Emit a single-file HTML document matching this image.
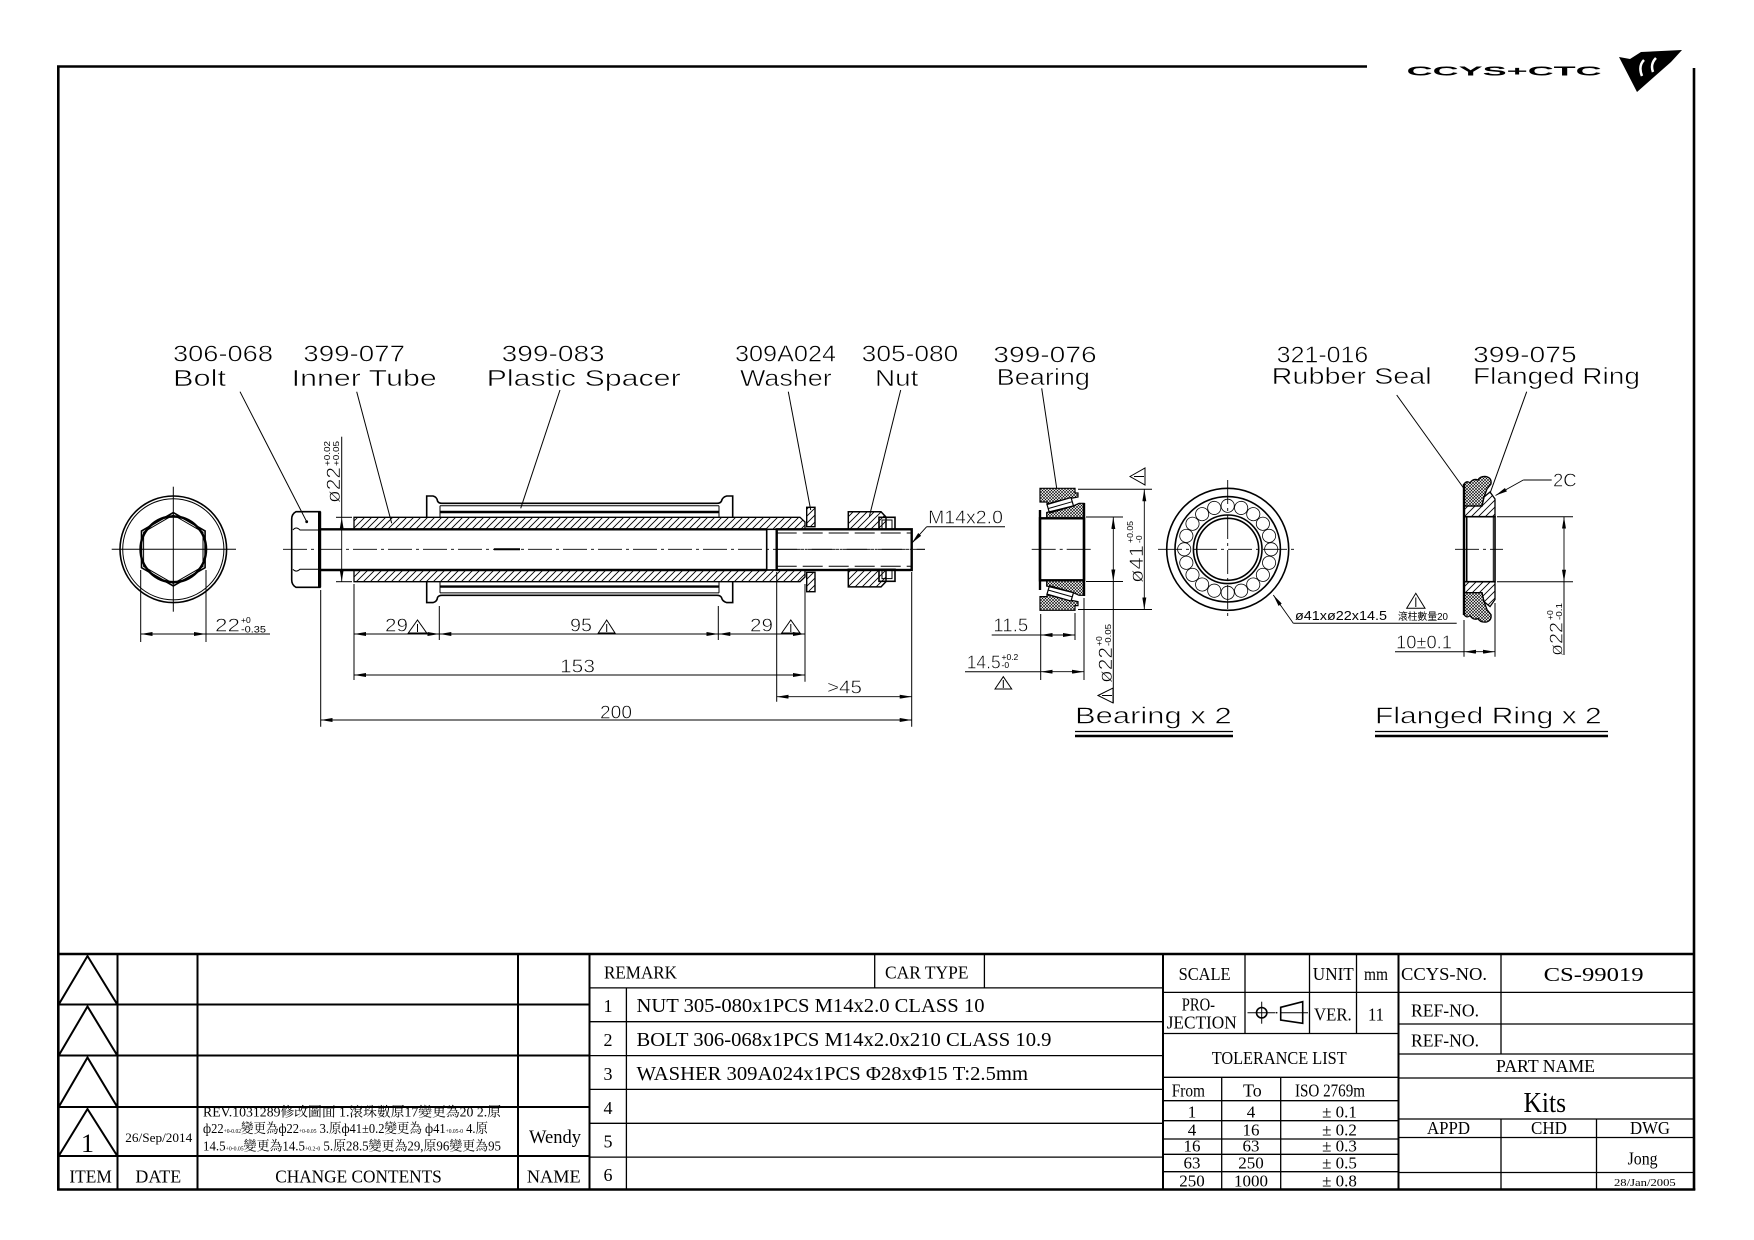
<!DOCTYPE html>
<html><head><meta charset="utf-8"><style>
html,body{margin:0;padding:0;background:#fff}
svg{display:block}
.l{stroke:#000;fill:none;stroke-width:1}
.m{stroke:#000;fill:none;stroke-width:1.6}
.k{stroke:#000;fill:none;stroke-width:2.4}
.c{stroke:#000;fill:none;stroke-width:0.9;stroke-dasharray:24 4 3 4}
.d{stroke:#000;fill:none;stroke-width:0.9;marker-start:url(#ar);marker-end:url(#ar)}
.e{stroke:#000;fill:none;stroke-width:0.9;marker-end:url(#ar)}
text{fill:#000}
.f{font-family:"Liberation Sans",sans-serif;stroke:#fff;stroke-width:0.55}
.s{font-family:"Liberation Serif","Noto Serif CJK SC",serif}
.tb{stroke:#000;fill:none;stroke-width:2}
.tt{stroke:#000;fill:none;stroke-width:1.3}
</style></head><body>
<svg width="1754" height="1240" viewBox="0 0 1754 1240" xmlns="http://www.w3.org/2000/svg">
<defs>
<marker id="ar" viewBox="0 0 12 4" refX="12" refY="2" markerWidth="12" markerHeight="4" markerUnits="userSpaceOnUse" orient="auto-start-reverse"><path d="M0,0 L12,2 L0,4z" fill="#000"/></marker>
<pattern id="h" width="7" height="7" patternUnits="userSpaceOnUse"><path d="M-1,8 L8,-1 M-1,1 L1,-1 M6,8 L8,6" stroke="#000" stroke-width="0.9"/></pattern>
<pattern id="x" width="3" height="3" patternUnits="userSpaceOnUse"><path d="M0,3 L3,0 M0,0 L3,3" stroke="#000" stroke-width="0.6"/></pattern>
</defs>
<rect width="1754" height="1240" fill="#fff"/>

<!-- border -->
<line x1="57" y1="66.5" x2="1367" y2="66.5" stroke="#000" stroke-width="2.6"/>
<line x1="58.3" y1="65.5" x2="58.3" y2="1190" stroke="#000" stroke-width="2.6"/>
<line x1="1694" y1="68" x2="1694" y2="1190" stroke="#000" stroke-width="2.6"/>
<line x1="57" y1="1189.5" x2="1695.3" y2="1189.5" stroke="#000" stroke-width="2.6"/>

<!-- logo -->
<text x="1406.7" y="75.5" font-family="Liberation Sans,sans-serif" font-weight="bold" font-size="12.5" textLength="195" lengthAdjust="spacingAndGlyphs">CCYS+CTC</text>
<polygon points="1619,57 1630,59 1641,52 1682,50 1671,62 1637,92" fill="#000"/>
<path d="M1644,60 Q1638,66 1642,76 M1656,58 Q1650,64 1653,72" stroke="#fff" stroke-width="2.5" fill="none"/>

<!-- ===== end view ===== -->
<circle cx="173.3" cy="549.3" r="53.3" class="m"/>
<circle cx="173.3" cy="549.3" r="50.6" class="l"/>
<polygon points="173.3,512.6 205.1,531 205.1,567.7 173.3,586 141.5,567.7 141.5,531" class="m"/>
<polygon points="173.3,515 203,532.2 203,566.4 173.3,583.6 143.6,566.4 143.6,532.2" class="l"/>
<circle cx="173.3" cy="549.3" r="32.8" class="k"/>
<line x1="111.7" y1="549.3" x2="236" y2="549.3" class="l"/>
<line x1="173.3" y1="486.7" x2="173.3" y2="611.7" class="l"/>
<line x1="140.7" y1="570" x2="140.7" y2="642" class="l"/>
<line x1="206" y1="570" x2="206" y2="642" class="l"/>
<line x1="140.7" y1="634" x2="206" y2="634" class="d"/>
<line x1="206" y1="634" x2="270" y2="634" class="l"/>
<text x="215" y="631.7" class="f" font-size="18" textLength="25" lengthAdjust="spacingAndGlyphs">22</text>
<text x="241" y="623" font-family="Liberation Sans,sans-serif" font-size="8.5">+0</text>
<text x="241" y="632.5" font-family="Liberation Sans,sans-serif" font-size="9" textLength="25" lengthAdjust="spacingAndGlyphs">-0.35</text>

<!-- ===== bolt / tube assembly ===== -->
<line x1="283" y1="549.3" x2="925" y2="549.3" class="c"/>
<path class="m" d="M296,511.7 H320 V587.3 H296 Q291.7,585 291.7,580 V519 Q291.7,514 296,511.7Z"/>
<path class="l" d="M293,530 Q296,526 300,530 H320 M293,569.3 Q296,573 300,569.3 H320"/>
<rect x="318" y="511.7" width="3.2" height="75.6" fill="#000"/>
<circle cx="306.7" cy="521.7" r="1.4" fill="#000"/>
<path d="M354,517.3 H800 L805,522 V529.3 H354 Z" fill="url(#h)" stroke="#000" stroke-width="1.3"/>
<path d="M354,570 H805 V577 L800,581.7 H354 Z" fill="url(#h)" stroke="#000" stroke-width="1.3"/>
<path class="m" d="M426.7,517.3 V496 H433 Q437,497 437.5,501 Q438.5,503.3 442,503.3 H717 Q720.5,503.3 721.5,501 Q722.5,497 726.7,496 H732.7 V517.3"/>
<line x1="440" y1="505.7" x2="719" y2="505.7" class="l"/>
<line x1="440" y1="512" x2="719" y2="512" class="k"/>
<line x1="440" y1="505.7" x2="440" y2="517.3" class="l"/>
<line x1="719" y1="505.7" x2="719" y2="517.3" class="l"/>
<path class="m" d="M426.7,581.3 V602.6 H433 Q437,601.6 437.5,597.6 Q438.5,595.3 442,595.3 H717 Q720.5,595.3 721.5,597.6 Q722.5,601.6 726.7,602.6 H732.7 V581.3"/>
<line x1="440" y1="592.9" x2="719" y2="592.9" class="l"/>
<line x1="440" y1="586.6" x2="719" y2="586.6" class="k"/>
<line x1="440" y1="592.9" x2="440" y2="581.3" class="l"/>
<line x1="719" y1="592.9" x2="719" y2="581.3" class="l"/>
<line x1="320" y1="529.3" x2="766.7" y2="529.3" class="k"/>
<line x1="320" y1="570" x2="766.7" y2="570" class="k"/>
<line x1="494" y1="549.3" x2="520" y2="549.3" stroke="#000" stroke-width="2"/>
<rect x="806.7" y="507.3" width="8.3" height="19.4" fill="url(#h)" stroke="#000" stroke-width="1.4"/>
<rect x="806.7" y="572.3" width="8.3" height="19.4" fill="url(#h)" stroke="#000" stroke-width="1.4"/>
<path d="M848.3,529.3 V511.7 H881 L886,517 V529.3 Z" fill="url(#h)" stroke="#000" stroke-width="1.5"/>
<rect x="879" y="517.3" width="16" height="12" class="m"/>
<rect x="882" y="520" width="10" height="9.3" class="l"/>
<path d="M848.3,569.3 V586.9 H881 L886,581.6 V569.3 Z" fill="url(#h)" stroke="#000" stroke-width="1.5"/>
<rect x="879" y="569.3" width="16" height="12" class="m"/>
<rect x="882" y="569.3" width="10" height="9.3" class="l"/>
<rect x="766.7" y="529.3" width="10" height="40.7" class="m" fill="#fff"/>
<rect x="776.7" y="529.3" width="135" height="40.7" class="k" fill="#fff"/>
<line x1="776.7" y1="533" x2="911.7" y2="533" class="l" stroke-dasharray="20 6"/>
<line x1="776.7" y1="566.3" x2="911.7" y2="566.3" class="l" stroke-dasharray="20 6"/>
<line x1="776.7" y1="549.3" x2="925" y2="549.3" class="c"/>

<!-- phi22 tube dim -->
<line x1="336" y1="517.3" x2="352" y2="517.3" class="l"/>
<line x1="336" y1="581.7" x2="352" y2="581.7" class="l"/>
<line x1="341.7" y1="436.7" x2="341.7" y2="517.3" class="l"/>
<line x1="341.7" y1="517.3" x2="341.7" y2="581.7" class="d"/>
<text transform="translate(340,503) rotate(-90)" class="f" font-size="19" textLength="36" lengthAdjust="spacingAndGlyphs">ø22</text>
<text transform="translate(330,466) rotate(-90)" font-family="Liberation Sans,sans-serif" font-size="8.5" textLength="25" lengthAdjust="spacingAndGlyphs">+0.02</text>
<text transform="translate(339,466) rotate(-90)" font-family="Liberation Sans,sans-serif" font-size="8.5" textLength="25" lengthAdjust="spacingAndGlyphs">+0.05</text>

<line x1="354" y1="584" x2="354" y2="680" class="l"/>
<line x1="320.7" y1="590" x2="320.7" y2="726.7" class="l"/>
<line x1="805" y1="584" x2="805" y2="681.7" class="l"/>
<line x1="776.7" y1="572" x2="776.7" y2="701.7" class="l"/>
<line x1="911.7" y1="572" x2="911.7" y2="726.7" class="l"/>
<line x1="439.3" y1="606" x2="439.3" y2="640" class="l"/>
<line x1="718.3" y1="606" x2="718.3" y2="640" class="l"/>
<line x1="354" y1="634" x2="439.3" y2="634" class="d"/>
<line x1="439.3" y1="634" x2="718.3" y2="634" class="d"/>
<line x1="718.3" y1="634" x2="805" y2="634" class="d"/>
<line x1="354" y1="675" x2="805" y2="675" class="d"/>
<line x1="320.7" y1="720" x2="911.7" y2="720" class="d"/>
<line x1="776.7" y1="696.7" x2="911.7" y2="696.7" class="d"/>
<text x="385" y="631.7" class="f" font-size="18" textLength="23" lengthAdjust="spacingAndGlyphs">29</text>
<polygon points="408.3,633 417.5,620 426.7,633" class="l"/><line x1="417.5" y1="624" x2="417.5" y2="632" class="l"/>
<text x="570" y="631.7" class="f" font-size="18" textLength="22" lengthAdjust="spacingAndGlyphs">95</text>
<polygon points="598.3,633 606.7,620 615,633" class="l"/><line x1="606.7" y1="624" x2="606.7" y2="632" class="l"/>
<text x="750" y="631.7" class="f" font-size="18" textLength="23" lengthAdjust="spacingAndGlyphs">29</text>
<polygon points="781.7,633 790.8,620 800,633" class="l"/><line x1="790.8" y1="624" x2="790.8" y2="632" class="l"/>
<text x="560" y="672.7" class="f" font-size="18" textLength="35" lengthAdjust="spacingAndGlyphs">153</text>
<text x="600" y="718.3" class="f" font-size="18" textLength="32" lengthAdjust="spacingAndGlyphs">200</text>
<text x="827" y="693.3" class="f" font-size="18" textLength="35" lengthAdjust="spacingAndGlyphs">&gt;45</text>
<text x="928" y="523.5" class="f" font-size="18" textLength="75" lengthAdjust="spacingAndGlyphs">M14x2.0</text>
<line x1="926.7" y1="526.7" x2="1005" y2="526.7" class="l"/>
<line x1="926.7" y1="526.7" x2="911.7" y2="543.3" class="e"/>

<!-- ===== labels ===== -->
<g class="f" font-size="23">
<text x="173" y="361.7" textLength="100" lengthAdjust="spacingAndGlyphs">306-068</text>
<text x="173" y="386" textLength="53" lengthAdjust="spacingAndGlyphs">Bolt</text>
<text x="303.3" y="361.7" textLength="101.7" lengthAdjust="spacingAndGlyphs">399-077</text>
<text x="291.7" y="386" textLength="145" lengthAdjust="spacingAndGlyphs">Inner Tube</text>
<text x="501.7" y="361.7" textLength="103" lengthAdjust="spacingAndGlyphs">399-083</text>
<text x="486.7" y="386" textLength="194" lengthAdjust="spacingAndGlyphs">Plastic Spacer</text>
<text x="735" y="361.7" textLength="101" lengthAdjust="spacingAndGlyphs">309A024</text>
<text x="740" y="386" textLength="91.7" lengthAdjust="spacingAndGlyphs">Washer</text>
<text x="861.7" y="361.7" textLength="96.6" lengthAdjust="spacingAndGlyphs">305-080</text>
<text x="875" y="386" textLength="43.3" lengthAdjust="spacingAndGlyphs">Nut</text>
<text x="993.3" y="362.3" textLength="103.4" lengthAdjust="spacingAndGlyphs">399-076</text>
<text x="996.7" y="385" textLength="93.3" lengthAdjust="spacingAndGlyphs">Bearing</text>
<text x="1276.7" y="362.3" textLength="91.6" lengthAdjust="spacingAndGlyphs">321-016</text>
<text x="1271.7" y="384" textLength="160" lengthAdjust="spacingAndGlyphs">Rubber Seal</text>
<text x="1473" y="362.3" textLength="103.7" lengthAdjust="spacingAndGlyphs">399-075</text>
<text x="1473" y="384" textLength="167" lengthAdjust="spacingAndGlyphs">Flanged Ring</text>
<text x="1075" y="723.3" textLength="156.7" lengthAdjust="spacingAndGlyphs">Bearing x 2</text>
<text x="1375" y="723.3" textLength="226.7" lengthAdjust="spacingAndGlyphs">Flanged Ring x 2</text>
</g>
<line x1="1075" y1="731.5" x2="1233" y2="731.5" stroke="#000" stroke-width="1.2"/>
<line x1="1075" y1="736" x2="1233" y2="736" stroke="#000" stroke-width="2.4"/>
<line x1="1375" y1="731.5" x2="1608" y2="731.5" stroke="#000" stroke-width="1.2"/>
<line x1="1375" y1="736" x2="1608" y2="736" stroke="#000" stroke-width="2.4"/>
<g class="l">
<line x1="240" y1="391.7" x2="306.7" y2="521.7"/>
<line x1="356.7" y1="391.7" x2="391.7" y2="523.3"/>
<line x1="560" y1="390" x2="520.7" y2="508.3"/>
<line x1="788.3" y1="391.7" x2="810.7" y2="510"/>
<line x1="900.7" y1="390" x2="869.3" y2="516.7"/>
<line x1="1041.7" y1="388.3" x2="1056.7" y2="488.3"/>
<line x1="1396.7" y1="395" x2="1465" y2="490"/>
<line x1="1526.7" y1="391.7" x2="1490" y2="493.3"/>
</g>

<!-- ===== bearing side view ===== -->
<line x1="1031.7" y1="549.3" x2="1093.3" y2="549.3" class="c"/>
<polygon points="1040,488.3 1075,488.3 1075,493 1078,493 1078,497 1060,500.5 1047,504 1047,502 1040,502" fill="url(#x)" stroke="#000" stroke-width="1.2"/>
<polygon points="1047,504.5 1071,497.5 1073.5,506 1049.5,513" fill="#fff" stroke="#000" stroke-width="1.2"/>
<line x1="1048.5" y1="508.5" x2="1072.3" y2="501.7" class="l"/>
<polygon points="1046.7,512.5 1073,506 1079,503.3 1084,503.3 1084,518.3 1046.7,518.3" fill="url(#x)" stroke="#000" stroke-width="1.2"/>
<polygon points="1040,610.3 1075,610.3 1075,605.6 1078,605.6 1078,601.6 1060,598.1 1047,594.6 1047,596.6 1040,596.6" fill="url(#x)" stroke="#000" stroke-width="1.2"/>
<polygon points="1047,594.1 1071,601.1 1073.5,592.6 1049.5,585.6" fill="#fff" stroke="#000" stroke-width="1.2"/>
<line x1="1048.5" y1="590.1" x2="1072.3" y2="596.9" class="l"/>
<polygon points="1046.7,586.1 1073,592.6 1079,595.3 1084,595.3 1084,580.3 1046.7,580.3" fill="url(#x)" stroke="#000" stroke-width="1.2"/>
<rect x="1040" y="518.3" width="44" height="62" class="k"/>
<line x1="1040" y1="510" x2="1040" y2="590" class="k"/>
<line x1="1084" y1="503" x2="1084" y2="596" class="k"/>
<line x1="1078" y1="489.3" x2="1152" y2="489.3" class="l"/>
<line x1="1078" y1="609.5" x2="1152" y2="609.5" class="l"/>
<line x1="1144.3" y1="489.3" x2="1144.3" y2="609.5" class="d"/>
<text transform="translate(1143,583) rotate(-90)" class="f" font-size="19" textLength="38" lengthAdjust="spacingAndGlyphs">ø41</text>
<text transform="translate(1133,543) rotate(-90)" font-family="Liberation Sans,sans-serif" font-size="8.5" textLength="22" lengthAdjust="spacingAndGlyphs">+0.05</text>
<text transform="translate(1142,543) rotate(-90)" font-family="Liberation Sans,sans-serif" font-size="8.5">-0</text>
<polygon points="1130,476.5 1145,468 1145,485" class="l"/><line x1="1134" y1="476.5" x2="1144" y2="476.5" class="l"/>
<line x1="1086" y1="517" x2="1123" y2="517" class="l"/>
<line x1="1086" y1="581.5" x2="1123" y2="581.5" class="l"/>
<line x1="1113.3" y1="517" x2="1113.3" y2="581.5" class="d"/>
<line x1="1113.3" y1="581.5" x2="1113.3" y2="703" class="l"/>
<text transform="translate(1112,683) rotate(-90)" class="f" font-size="19" textLength="36" lengthAdjust="spacingAndGlyphs">ø22</text>
<text transform="translate(1102,646) rotate(-90)" font-family="Liberation Sans,sans-serif" font-size="8.5">+0</text>
<text transform="translate(1111,646) rotate(-90)" font-family="Liberation Sans,sans-serif" font-size="8.5" textLength="22" lengthAdjust="spacingAndGlyphs">-0.05</text>
<polygon points="1098,695.5 1113,688 1113,703" class="l"/><line x1="1102" y1="695.5" x2="1112" y2="695.5" class="l"/>
<line x1="1040.7" y1="614" x2="1040.7" y2="680" class="l"/>
<line x1="1075" y1="613" x2="1075" y2="640" class="l"/>
<line x1="1084" y1="598" x2="1084" y2="680" class="l"/>
<line x1="1040.7" y1="635" x2="1075" y2="635" class="d"/>
<line x1="991.7" y1="635" x2="1040.7" y2="635" class="l"/>
<text x="993.3" y="631.7" class="f" font-size="18" textLength="35" lengthAdjust="spacingAndGlyphs">11.5</text>
<line x1="1040.7" y1="671.7" x2="1084" y2="671.7" class="d"/>
<line x1="965" y1="671.7" x2="1040.7" y2="671.7" class="l"/>
<text x="966.7" y="668.3" class="f" font-size="18" textLength="34" lengthAdjust="spacingAndGlyphs">14.5</text>
<text x="1001.5" y="660" font-family="Liberation Sans,sans-serif" font-size="8.5">+0.2</text>
<text x="1001.5" y="668" font-family="Liberation Sans,sans-serif" font-size="8.5">-0</text>
<polygon points="995,689 1003.3,676.7 1011.7,689" class="l"/><line x1="1003.3" y1="680" x2="1003.3" y2="688" class="l"/>

<!-- ===== bearing front view ===== -->
<line x1="1158" y1="549.3" x2="1298" y2="549.3" class="c"/>
<line x1="1227.7" y1="480" x2="1227.7" y2="620" class="c"/>
<circle cx="1227.7" cy="549.3" r="61" class="m"/>
<circle cx="1227.7" cy="549.3" r="52.7" class="m"/>
<circle cx="1227.7" cy="549.3" r="34.3" class="m"/>
<circle cx="1227.7" cy="549.3" r="31" class="m"/>
<g id="rl"><circle cx="1271.2" cy="549.3" r="6.6" stroke="#000" fill="none" stroke-width="0.8"/></g>
<use href="#rl" transform="rotate(18 1227.7 549.3)"/>
<use href="#rl" transform="rotate(36 1227.7 549.3)"/>
<use href="#rl" transform="rotate(54 1227.7 549.3)"/>
<use href="#rl" transform="rotate(72 1227.7 549.3)"/>
<use href="#rl" transform="rotate(90 1227.7 549.3)"/>
<use href="#rl" transform="rotate(108 1227.7 549.3)"/>
<use href="#rl" transform="rotate(126 1227.7 549.3)"/>
<use href="#rl" transform="rotate(144 1227.7 549.3)"/>
<use href="#rl" transform="rotate(162 1227.7 549.3)"/>
<use href="#rl" transform="rotate(180 1227.7 549.3)"/>
<use href="#rl" transform="rotate(198 1227.7 549.3)"/>
<use href="#rl" transform="rotate(216 1227.7 549.3)"/>
<use href="#rl" transform="rotate(234 1227.7 549.3)"/>
<use href="#rl" transform="rotate(252 1227.7 549.3)"/>
<use href="#rl" transform="rotate(270 1227.7 549.3)"/>
<use href="#rl" transform="rotate(288 1227.7 549.3)"/>
<use href="#rl" transform="rotate(306 1227.7 549.3)"/>
<use href="#rl" transform="rotate(324 1227.7 549.3)"/>
<use href="#rl" transform="rotate(342 1227.7 549.3)"/>
<line x1="1293.3" y1="623.3" x2="1273.3" y2="595" class="e"/>
<line x1="1293.3" y1="623.3" x2="1456.7" y2="623.3" class="l"/>
<text x="1295" y="620" font-family="Liberation Sans,sans-serif" font-size="12.5" textLength="92" lengthAdjust="spacingAndGlyphs">ø41xø22x14.5</text>
<text x="1398" y="620" font-family="Liberation Sans,'Noto Sans CJK TC',sans-serif" font-size="10" textLength="50" lengthAdjust="spacingAndGlyphs">滾柱數量20</text>
<polygon points="1406.7,608.3 1415.8,593.3 1425,608.3" class="l"/><line x1="1415.8" y1="597.5" x2="1415.8" y2="607" class="l"/>

<!-- ===== flanged ring ===== -->
<line x1="1455" y1="549.3" x2="1503" y2="549.3" class="c"/>
<polygon points="1464,506 1482,506 1484,497 1490,492 1495,499 1495,516.7 1464,516.7" fill="url(#h)" stroke="#000" stroke-width="1.3"/>
<path d="M1464,506 V484 Q1467,480 1470,483 Q1473,478 1478,480 Q1480,476 1486,476.5 Q1492,478 1491,484 L1487,489 L1484,497 L1482,506 Z" fill="url(#x)" stroke="#000" stroke-width="1.3"/>
<polygon points="1464,592.6 1482,592.6 1484,601.6 1490,606.6 1495,599.6 1495,581.9 1464,581.9" fill="url(#h)" stroke="#000" stroke-width="1.3"/>
<path d="M1464,592.6 V614.6 Q1467,618.6 1470,615.6 Q1473,620.6 1478,618.6 Q1480,622.6 1486,622.1 Q1492,620.6 1491,614.6 L1487,609.6 L1484,601.6 L1482,592.6 Z" fill="url(#x)" stroke="#000" stroke-width="1.3"/>
<rect x="1464" y="516.7" width="31" height="65" class="m"/>
<line x1="1466.7" y1="516.7" x2="1466.7" y2="581.7" class="m"/>
<line x1="1493.3" y1="516.7" x2="1493.3" y2="581.7" class="l"/>
<line x1="1464" y1="484" x2="1464" y2="615" class="k"/>
<line x1="1523.3" y1="480" x2="1495.5" y2="495.5" class="e"/>
<line x1="1523.3" y1="480" x2="1551.7" y2="480" class="l"/>
<text x="1553" y="486.7" class="f" font-size="18" textLength="23.7" lengthAdjust="spacingAndGlyphs">2C</text>
<line x1="1497" y1="516.7" x2="1573" y2="516.7" class="l"/>
<line x1="1497" y1="581.7" x2="1573" y2="581.7" class="l"/>
<line x1="1564" y1="516.7" x2="1564" y2="581.7" class="d"/>
<line x1="1564" y1="581.7" x2="1564" y2="655" class="l"/>
<text transform="translate(1562.5,656) rotate(-90)" class="f" font-size="18" textLength="34" lengthAdjust="spacingAndGlyphs">ø22</text>
<text transform="translate(1553,620) rotate(-90)" font-family="Liberation Sans,sans-serif" font-size="8.5">+0</text>
<text transform="translate(1562,620) rotate(-90)" font-family="Liberation Sans,sans-serif" font-size="8.5" textLength="17" lengthAdjust="spacingAndGlyphs">-0.1</text>
<line x1="1464" y1="620" x2="1464" y2="656.7" class="l"/>
<line x1="1495" y1="603" x2="1495" y2="656.7" class="l"/>
<line x1="1464" y1="651.7" x2="1495" y2="651.7" class="d"/>
<line x1="1395" y1="651.7" x2="1464" y2="651.7" class="l"/>
<text x="1396" y="648.3" class="f" font-size="18" textLength="56" lengthAdjust="spacingAndGlyphs">10±0.1</text>

<!-- ===== title block ===== -->
<line x1="58" y1="954" x2="1694" y2="954" stroke="#000" stroke-width="2.6"/>
<g class="tb">
<line x1="58" y1="1004.5" x2="589.5" y2="1004.5"/>
<line x1="58" y1="1055.5" x2="589.5" y2="1055.5"/>
<line x1="58" y1="1107" x2="589.5" y2="1107"/>
<line x1="58" y1="1156" x2="589.5" y2="1156"/>
<line x1="117.5" y1="954" x2="117.5" y2="1189"/>
<line x1="197.5" y1="954" x2="197.5" y2="1189"/>
<line x1="518" y1="954" x2="518" y2="1189"/>
<line x1="589.5" y1="954" x2="589.5" y2="1189"/>
<polyline points="59,1004 87.5,956 117,1004"/>
<polyline points="59,1055 87.5,1006.5 117,1055"/>
<polyline points="59,1106.5 87.5,1057.5 117,1106.5"/>
<polyline points="59,1155.5 87.5,1109 117,1155.5"/>
</g>
<text x="87.5" y="1152" class="s" font-size="26" text-anchor="middle">1</text>
<text x="125.3" y="1142" class="s" font-size="13" textLength="67" lengthAdjust="spacingAndGlyphs">26/Sep/2014</text>
<text x="203" y="1116.5" class="s" font-size="13.5" textLength="298" lengthAdjust="spacingAndGlyphs">REV.1031289修改圖面 1.滾珠數原17變更為20 2.原</text>
<text x="203" y="1133" class="s" font-size="13.5" textLength="285" lengthAdjust="spacingAndGlyphs">ф22<tspan font-size="6">+0-0.02</tspan>變更為ф22<tspan font-size="6">+0-0.05</tspan> 3.原ф41±0.2變更為 ф41<tspan font-size="6">+0.05-0</tspan> 4.原</text>
<text x="203" y="1150.5" class="s" font-size="13.5" textLength="298" lengthAdjust="spacingAndGlyphs">14.5<tspan font-size="6">+0-0.05</tspan>變更為14.5<tspan font-size="6">+0.2-0</tspan> 5.原28.5變更為29,原96變更為95</text>
<text x="529" y="1143" class="s" font-size="19" textLength="52" lengthAdjust="spacingAndGlyphs">Wendy</text>
<text x="69.4" y="1182.4" class="s" font-size="18" textLength="42.5" lengthAdjust="spacingAndGlyphs">ITEM</text>
<text x="135.4" y="1182.4" class="s" font-size="18" textLength="45.8" lengthAdjust="spacingAndGlyphs">DATE</text>
<text x="275.2" y="1182.4" class="s" font-size="18" textLength="166.6" lengthAdjust="spacingAndGlyphs">CHANGE CONTENTS</text>
<text x="526.9" y="1182.4" class="s" font-size="18" textLength="53.7" lengthAdjust="spacingAndGlyphs">NAME</text>

<g class="tt">
<line x1="589.5" y1="987.9" x2="1163" y2="987.9"/>
<line x1="589.5" y1="1021.7" x2="1163" y2="1021.7"/>
<line x1="589.5" y1="1055.6" x2="1163" y2="1055.6"/>
<line x1="589.5" y1="1089.4" x2="1163" y2="1089.4"/>
<line x1="589.5" y1="1123.3" x2="1163" y2="1123.3"/>
<line x1="589.5" y1="1157.1" x2="1163" y2="1157.1"/>
<line x1="626.4" y1="987.9" x2="626.4" y2="1189"/>
<line x1="874.7" y1="954" x2="874.7" y2="987.9"/>
<line x1="984.4" y1="954" x2="984.4" y2="987.9"/>
</g>
<line x1="1163" y1="954" x2="1163" y2="1189" class="tb"/>
<text x="604" y="978.3" class="s" font-size="18" textLength="73" lengthAdjust="spacingAndGlyphs">REMARK</text>
<text x="885" y="978.3" class="s" font-size="18" textLength="83.5" lengthAdjust="spacingAndGlyphs">CAR TYPE</text>
<g class="s" font-size="18" text-anchor="middle">
<text x="608" y="1012">1</text><text x="608" y="1046">2</text><text x="608" y="1080">3</text>
<text x="608" y="1114">4</text><text x="608" y="1147.5">5</text><text x="608" y="1181">6</text>
</g>
<text x="636.5" y="1012" class="s" font-size="20" textLength="348" lengthAdjust="spacingAndGlyphs">NUT 305-080x1PCS M14x2.0 CLASS 10</text>
<text x="636.5" y="1046" class="s" font-size="20" textLength="415" lengthAdjust="spacingAndGlyphs">BOLT 306-068x1PCS M14x2.0x210 CLASS 10.9</text>
<text x="636.5" y="1080" class="s" font-size="20" textLength="391.5" lengthAdjust="spacingAndGlyphs">WASHER 309A024x1PCS Φ28xΦ15 T:2.5mm</text>

<g class="tt">
<line x1="1163" y1="992.4" x2="1694" y2="992.4"/>
<line x1="1163" y1="1033.5" x2="1398.5" y2="1033.5"/>
<line x1="1398.5" y1="1024" x2="1694" y2="1024"/>
<line x1="1398.5" y1="1054" x2="1694" y2="1054"/>
<line x1="1163" y1="1077.3" x2="1398.5" y2="1077.3"/>
<line x1="1398.5" y1="1078" x2="1694" y2="1078"/>
<line x1="1163" y1="1100.7" x2="1398.5" y2="1100.7"/>
<line x1="1163" y1="1120.7" x2="1398.5" y2="1120.7"/>
<line x1="1163" y1="1139" x2="1398.5" y2="1139"/>
<line x1="1163" y1="1154.3" x2="1398.5" y2="1154.3"/>
<line x1="1163" y1="1171.7" x2="1398.5" y2="1171.7"/>
<line x1="1398.5" y1="1119" x2="1694" y2="1119"/>
<line x1="1398.5" y1="1137.5" x2="1694" y2="1137.5"/>
<line x1="1398.5" y1="1172.5" x2="1694" y2="1172.5"/>
<line x1="1245" y1="954" x2="1245" y2="1033.5"/>
<line x1="1309.5" y1="954" x2="1309.5" y2="1033.5"/>
<line x1="1356.5" y1="954" x2="1356.5" y2="1033.5"/>
<line x1="1501" y1="954" x2="1501" y2="1054"/>
<line x1="1501" y1="1119" x2="1501" y2="1189"/>
<line x1="1596.5" y1="1119" x2="1596.5" y2="1189"/>
<line x1="1221.7" y1="1077.3" x2="1221.7" y2="1189"/>
<line x1="1280.7" y1="1077.3" x2="1280.7" y2="1189"/>
</g>
<line x1="1398.5" y1="954" x2="1398.5" y2="1189" class="tb"/>
<g class="s" font-size="18">
<text x="1178.6" y="980" textLength="52" lengthAdjust="spacingAndGlyphs">SCALE</text>
<text x="1312.8" y="980" textLength="41" lengthAdjust="spacingAndGlyphs">UNIT</text>
<text x="1364" y="980" textLength="24" lengthAdjust="spacingAndGlyphs">mm</text>
<text x="1401" y="980" textLength="86" lengthAdjust="spacingAndGlyphs">CCYS-NO.</text>
<text x="1181.7" y="1010.7" textLength="33.3" lengthAdjust="spacingAndGlyphs">PRO-</text>
<text x="1166.7" y="1028.3" textLength="70" lengthAdjust="spacingAndGlyphs">JECTION</text>
<text x="1314" y="1020.7" textLength="37.7" lengthAdjust="spacingAndGlyphs">VER.</text>
<text x="1368" y="1020.7" textLength="16" lengthAdjust="spacingAndGlyphs">11</text>
<text x="1411" y="1016.7" textLength="68" lengthAdjust="spacingAndGlyphs">REF-NO.</text>
<text x="1411" y="1046.7" textLength="68" lengthAdjust="spacingAndGlyphs">REF-NO.</text>
<text x="1211.7" y="1064" textLength="135" lengthAdjust="spacingAndGlyphs">TOLERANCE LIST</text>
<text x="1496" y="1072" textLength="99" lengthAdjust="spacingAndGlyphs">PART NAME</text>
<text x="1171.7" y="1096.7" textLength="33.3" lengthAdjust="spacingAndGlyphs">From</text>
<text x="1243" y="1096.7" textLength="18.7" lengthAdjust="spacingAndGlyphs">To</text>
<text x="1295" y="1096.7" textLength="70" lengthAdjust="spacingAndGlyphs">ISO 2769m</text>
<text x="1427" y="1134" textLength="43" lengthAdjust="spacingAndGlyphs">APPD</text>
<text x="1531" y="1134" textLength="36" lengthAdjust="spacingAndGlyphs">CHD</text>
<text x="1630" y="1134" textLength="40" lengthAdjust="spacingAndGlyphs">DWG</text>
<text x="1627.6" y="1164.5" textLength="30" lengthAdjust="spacingAndGlyphs">Jong</text>
</g>
<text x="1543.6" y="981" class="s" font-size="20" textLength="100" lengthAdjust="spacingAndGlyphs">CS-99019</text>
<text x="1523.5" y="1112" class="s" font-size="29" textLength="42.5" lengthAdjust="spacingAndGlyphs">Kits</text>
<text x="1614" y="1186" class="s" font-size="11" textLength="61.7" lengthAdjust="spacingAndGlyphs">28/Jan/2005</text>
<g class="s" font-size="17" text-anchor="middle">
<text x="1192" y="1117.7">1</text><text x="1251" y="1117.7">4</text><text x="1339.5" y="1117.7">± 0.1</text>
<text x="1192" y="1135.7">4</text><text x="1251" y="1135.7">16</text><text x="1339.5" y="1135.7">± 0.2</text>
<text x="1192" y="1151.7">16</text><text x="1251" y="1151.7">63</text><text x="1339.5" y="1151.7">± 0.3</text>
<text x="1192" y="1168.3">63</text><text x="1251" y="1168.3">250</text><text x="1339.5" y="1168.3">± 0.5</text>
<text x="1192" y="1186.7">250</text><text x="1251" y="1186.7">1000</text><text x="1339.5" y="1186.7">± 0.8</text>
</g>
<circle cx="1261.7" cy="1012.7" r="5.2" class="m"/>
<line x1="1247.5" y1="1012.7" x2="1275.5" y2="1012.7" class="l"/>
<line x1="1261.7" y1="1001.7" x2="1261.7" y2="1023.7" class="l"/>
<circle cx="1276.7" cy="1012.7" r="0.8" fill="#000"/>
<polygon points="1280.7,1007.3 1302.7,1001.7 1302.7,1023.3 1280.7,1020" class="m"/>
<line x1="1280.7" y1="1012.7" x2="1308" y2="1012.7" class="l"/>
</svg>
</body></html>
